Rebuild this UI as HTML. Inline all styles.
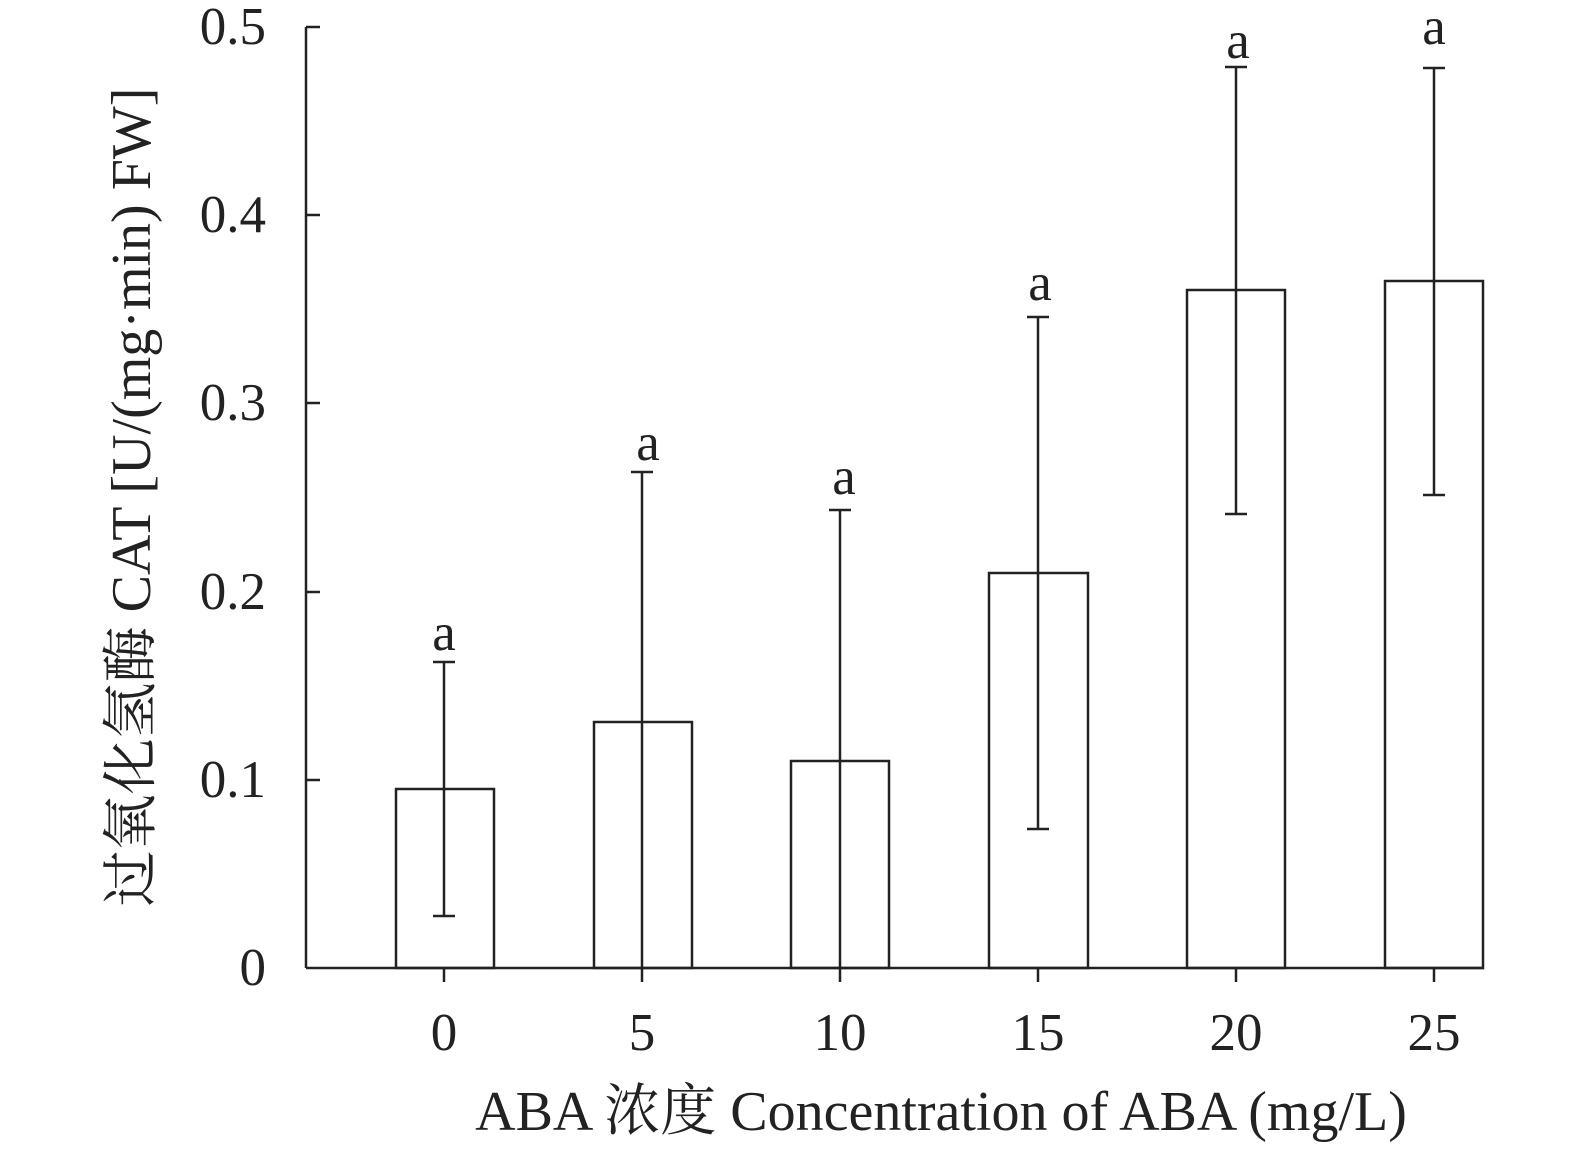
<!DOCTYPE html>
<html><head><meta charset="utf-8"><style>body{margin:0;background:#fff}</style></head><body>
<svg width="1575" height="1152" xmlns="http://www.w3.org/2000/svg" font-family="Liberation Serif, Noto Serif CJK SC, serif" fill="#222">
<g stroke="#222" stroke-width="2.5" fill="none">
<line x1="306" y1="27" x2="306" y2="968"/>
<line x1="306" y1="968" x2="1484" y2="968"/>
<line x1="306" y1="27" x2="320" y2="27"/>
<line x1="306" y1="215" x2="320" y2="215"/>
<line x1="306" y1="403" x2="320" y2="403"/>
<line x1="306" y1="592" x2="320" y2="592"/>
<line x1="306" y1="780" x2="320" y2="780"/>
<line x1="444" y1="968" x2="444" y2="982"/>
<line x1="642" y1="968" x2="642" y2="982"/>
<line x1="840" y1="968" x2="840" y2="982"/>
<line x1="1038" y1="968" x2="1038" y2="982"/>
<line x1="1236" y1="968" x2="1236" y2="982"/>
<line x1="1434" y1="968" x2="1434" y2="982"/>
<rect x="396" y="789" width="98" height="179"/>
<rect x="594" y="722" width="98" height="246"/>
<rect x="791" y="761" width="98" height="207"/>
<rect x="989" y="573" width="99" height="395"/>
<rect x="1187" y="290" width="98" height="678"/>
<rect x="1385" y="281" width="98" height="687"/>
<path d="M444 662V916M433 662H455M433 916H455"/>
<path d="M642 472V968M631 472H653"/>
<path d="M840 510V968M829 510H851"/>
<path d="M1038 317V829M1027 317H1049M1027 829H1049"/>
<path d="M1236 67V514M1225 67H1247M1225 514H1247"/>
<path d="M1434 68V495M1423 68H1445M1423 495H1445"/>
</g>
<g font-size="53" text-anchor="end">
<text x="266" y="44">0.5</text><text x="266" y="232">0.4</text><text x="266" y="420">0.3</text>
<text x="266" y="609">0.2</text><text x="266" y="797">0.1</text><text x="266" y="985">0</text>
</g>
<g font-size="53" text-anchor="middle">
<text x="444" y="1050">0</text><text x="642" y="1050">5</text><text x="840" y="1050">10</text>
<text x="1038" y="1050">15</text><text x="1236" y="1050">20</text><text x="1434" y="1050">25</text>
<text x="444" y="650">a</text><text x="648" y="460">a</text><text x="844" y="494">a</text>
<text x="1040" y="300">a</text><text x="1238" y="58">a</text><text x="1434" y="44">a</text>
<text x="941" y="1130" font-size="56">ABA 浓度 Concentration of ABA (mg/L)</text>
<text transform="translate(150,497) rotate(-90)" font-size="56">过氧化氢酶 CAT [U/(mg·min) FW]</text>
</g>
</svg>
</body></html>
